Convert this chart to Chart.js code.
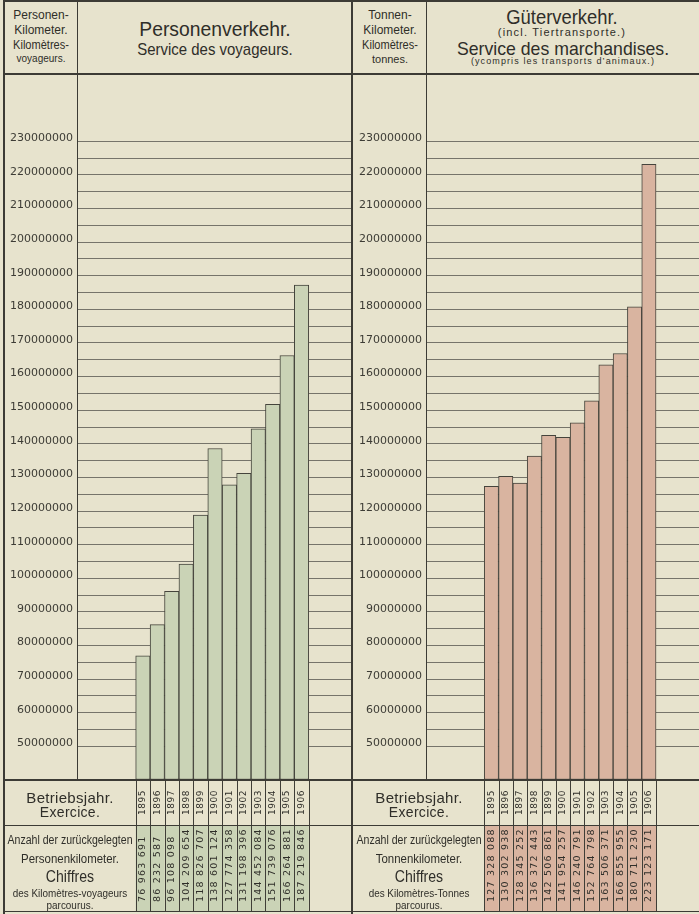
<!DOCTYPE html>
<html>
<head>
<meta charset="utf-8">
<script src="https://cdn.jsdelivr.net/npm/chart.js@4/dist/chart.umd.min.js"></script>
<style>
  html, body { margin:0; padding:0; }
  body { width:699px; height:914px; background:#e7e3cd; position:relative; overflow:hidden;
         font-family:"Liberation Sans", "DejaVu Sans", sans-serif; color:#2f2e29; }
  .ln { position:absolute; background:#3c3b35; z-index:5; }
  .t { position:absolute; white-space:nowrap; transform:translate(-50%,-50%); text-align:center; line-height:1; z-index:6; }
  canvas { position:absolute; z-index:2; }
</style>
</head>
<body>
<script>
// ---------- data ----------
const YEARS = [1895, 1896, 1897, 1898, 1899, 1900, 1901, 1902, 1903, 1904, 1905, 1906];
const PASSENGER_KM = [76963691, 86232587, 96108098, 104209654, 118826707, 138601124,
                      127774358, 131198396, 144452084, 151739076, 166264881, 187219846];
const TONNE_KM = [127328088, 130302938, 128345252, 136372443, 142506861, 141954257,
                  146240791, 152764798, 163506371, 166855955, 180711230, 223123171];
const Y_MIN = 40000000, Y_MAX = 250000000, Y_STEP = 5000000;
const LABEL_LOW = 50000000, LABEL_HIGH = 230000000, LABEL_STEP = 10000000;
const X_MIN = 1890.5, X_MAX = 1909.5;

// ---------- static layout (lines + texts) ----------
function line(x, y, w, h) {
  const d = document.createElement('div'); d.className = 'ln';
  Object.assign(d.style, {left:x+'px', top:y+'px', width:w+'px', height:h+'px'});
  document.body.appendChild(d);
}
function text(str, cx, cy, size, extra) {
  const d = document.createElement('div'); d.className = 't';
  d.textContent = str;
  d.style.left = cx + 'px'; d.style.top = cy + 'px'; d.style.fontSize = size + 'px';
  if (extra) Object.assign(d.style, extra);
  document.body.appendChild(d);
}
line(3, 0, 2, 914);        // outer left border
line(3, 0, 696, 2);        // top border
line(3, 73, 696, 2);       // header bottom
line(77, 0, 1, 780);       // left label column
line(351, 0, 2, 914);      // panel divider
line(426, 0, 1, 780);      // right label column
line(3, 779, 696, 2);      // table top
line(3, 825, 696, 1);      // table middle
line(3, 911, 696, 1);      // table bottom

const narrow = {transform:'translate(-50%,-50%) scaleX(0.85)'};
const sx = (k) => ({transform:'translate(-50%,-50%) scaleX(' + k + ')'});
// left header
text('Personen-', 41, 15, 12);
text('Kilometer.', 41, 30, 12);
text('Kilomètres-', 41, 45, 12, sx(0.92));
text('voyageurs.', 41, 59, 10);
text('Personenverkehr.', 215, 28, 21, sx(0.92));
text('Service des voyageurs.', 215, 49, 17, sx(0.88));
// right header
text('Tonnen-', 390, 15, 12);
text('Kilometer.', 390, 30, 12);
text('Kilomètres-', 390, 45, 12, sx(0.92));
text('tonnes.', 390, 59, 11);
text('Güterverkehr.', 562, 17, 20, sx(0.92));
text('(incl. Tiertransporte.)', 562, 32, 11, {letterSpacing:'1.2px'});
text('Service des marchandises.', 563, 48, 19, sx(0.93));
text('(ycompris les transports d\u2019animaux.)', 563, 61, 9, {letterSpacing:'1.1px'});
// bottom table labels
function tableLabels(cx, word1, word2) {
  text('Betriebsjahr.', cx, 797, 15, {letterSpacing:'0.3px'});
  text('Exercice.', cx, 812, 14, {letterSpacing:'0.3px'});
  text('Anzahl der zurückgelegten', cx, 840, 12, sx(0.88));
  text(word1, cx, 858, 13, sx(0.88));
  text('Chiffres', cx, 877, 16, sx(0.88));
  text(word2, cx, 893, 11, sx(0.9));
  text('parcourus.', cx, 905, 11, sx(0.9));
}
tableLabels(70, 'Personenkilometer.', 'des Kilomètres-voyageurs');
tableLabels(419, 'Tonnenkilometer.', 'des Kilomètres-Tonnes');

// ---------- charts ----------
function fmt(v) { return String(v).replace(/\B(?=(\d{3})+(?!\d))/g, ' '); }

const tablePlugin = {
  id: 'table',
  afterDatasetsDraw(chart, args, opts) {
    const ctx = chart.ctx, xs = chart.scales.x, ca = chart.chartArea;
    const top = ca.bottom, mid = 751, bot = 837;
    ctx.save();
    YEARS.forEach((yr, i) => {
      const l = xs.getPixelForValue(yr - 0.5), r = xs.getPixelForValue(yr + 0.5);
      ctx.fillStyle = opts.fill;
      ctx.fillRect(l, mid + 1, r - l, bot - mid - 1);
      ctx.strokeStyle = '#3f3e37'; ctx.lineWidth = 1;
      ctx.beginPath();
      ctx.moveTo(Math.round(l) + 0.5, top); ctx.lineTo(Math.round(l) + 0.5, bot);
      ctx.moveTo(Math.round(r) + 0.5, top); ctx.lineTo(Math.round(r) + 0.5, bot);
      ctx.stroke();
      const cx = (l + r) / 2;
      ctx.fillStyle = '#2f2e29';
      ctx.textBaseline = 'middle';
      // year
      ctx.save();
      ctx.translate(cx, top + 10);
      ctx.rotate(-Math.PI / 2);
      ctx.font = '9px "DejaVu Sans"';
      ctx.letterSpacing = '0.5px';
      ctx.textAlign = 'right';
      ctx.fillText(String(yr), 0, 0);
      ctx.restore();
      // value
      ctx.save();
      ctx.translate(cx, bot - 9);
      ctx.rotate(-Math.PI / 2);
      ctx.font = '9.5px "DejaVu Sans"';
      ctx.letterSpacing = '1.2px';
      ctx.textAlign = 'left';
      ctx.fillText(fmt(opts.values[i]), 0, 0);
      ctx.restore();
    });
    ctx.restore();
  }
};

function makeChart(left, width, values, color, axisWidth) {
  const c = document.createElement('canvas');
  c.width = width; c.height = 840;
  c.style.left = left + 'px'; c.style.top = '74px';
  c.style.width = width + 'px'; c.style.height = '840px';
  document.body.appendChild(c);
  return new Chart(c, {
    type: 'bar',
    data: {
      datasets: [{
        data: YEARS.map((y, i) => ({x: y, y: values[i]})),
        backgroundColor: color,
        borderColor: '#45443c',
        borderWidth: 1,
        borderSkipped: false,
        base: Y_MIN,
        barPercentage: 1,
        categoryPercentage: 1
      }]
    },
    options: {
      responsive: false,
      devicePixelRatio: 1,
      animation: false,
      layout: {padding: {top: 0, right: 0, bottom: 134, left: 0}},
      plugins: {
        legend: {display: false}, tooltip: {enabled: false}, title: {display: false},
        table: {values: values, fill: color}
      },
      scales: {
        x: {type: 'linear', min: X_MIN, max: X_MAX, offset: false, display: false},
        y: {
          type: 'linear', min: Y_MIN, max: Y_MAX,
          afterFit(s) { s.width = axisWidth; s.paddingTop = 0; s.paddingBottom = 0; },
          border: {display: false},
          grid: {
            drawTicks: false, lineWidth: 1,
            color: (c) => (c.tick && c.tick.value >= LABEL_LOW && c.tick.value <= LABEL_HIGH) ? '#76746a' : 'rgba(0,0,0,0)'
          },
          ticks: {
            stepSize: Y_STEP, autoSkip: false, padding: 5, labelOffset: -3,
            color: '#3d3c35',
            font: {family: '"DejaVu Sans"', size: 11},
            callback: (v) => (v % LABEL_STEP === 0 && v >= LABEL_LOW && v <= LABEL_HIGH) ? String(v) : ''
          }
        }
      }
    },
    plugins: [tablePlugin]
  });
}

makeChart(4, 348, PASSENGER_KM, '#cad3b6', 74);
makeChart(352, 347, TONNE_KM, '#d9b4a0', 75);
</script>
</body>
</html>
